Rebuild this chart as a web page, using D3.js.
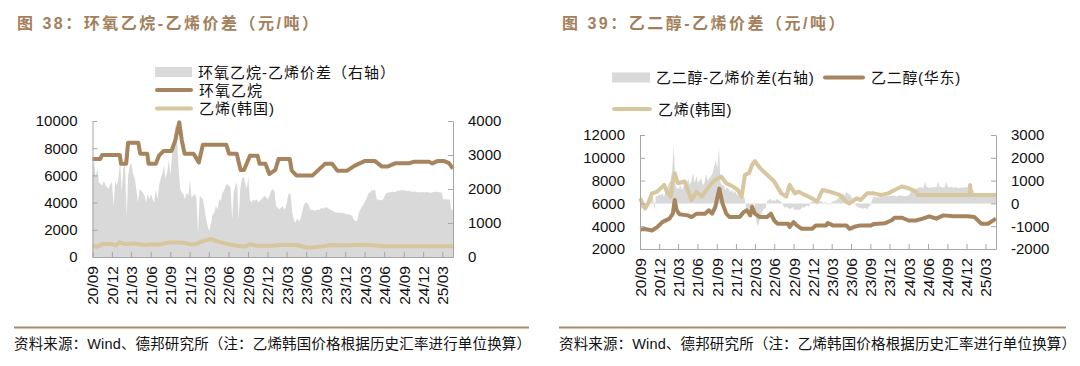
<!DOCTYPE html>
<html><head><meta charset="utf-8">
<script src="https://cdn.jsdelivr.net/npm/d3@7"></script>
<style>
html,body{margin:0;padding:0;background:#fff;}
svg{display:block;}
</style></head><body>
<script>
// ---------------- DATA ----------------
const xStart = "2020-09-01", xEnd = "2025-04-20";
const xTickLabels = ["20/09","20/12","21/03","21/06","21/09","21/12","22/03","22/06","22/09","22/12","23/03","23/06","23/09","23/12","24/03","24/06","24/09","24/12","25/03"];

// Figure 38
const eoLeftTicks = [0,2000,4000,6000,8000,10000];
const eoRightTicks = [0,1000,2000,3000,4000];
const eoSpread = [ // 环氧乙烷-乙烯价差 (right axis), ~weekly
 2300,2800,2350,2600, 2200,2150,2100,2250, 2100,2050,2000,2150, 2200,1500,2250,2100,
 2300,2850,1900,2600, 2750,1200,2400,2700, 2750,2450,2300,2000, 1600,2000,1950,1900,
 1800,1600,1850,1700, 1850,1700,1600,2000, 1700,2100,2300,2450, 2700,2300,2500,2850,
 2400,3000,3400,3900, 3600,2600,2000,1900, 1850,1700,1900,1800, 2250,1750,1800,1850,
 1750,700,1800,1750, 1700,1400,1100,900, 760,1000,1250,1300, 1500,1400,1700,1650,
 1880,1950,2100,2150, 2100,2050,1100,1900, 2100,2200,1100,2000, 2300,2370,2200,2000,
 2350,1650,1600,1700, 1650,1700,1600,1650, 1700,1750,1800,1750, 1700,1800,1950,2000,
 1950,1500,1450,1400, 1450,1500,1400,1450, 1700,1880,1850,1300, 1100,1000,1150,1050,
 1100,1300,1500,1600, 1590,1550,1400,1380, 1390,1350,1400,1380, 1400,1450,1420,1450,
 1460,1440,1400,1380, 1350,1320,1300,1310, 1300,1290,1300,1280, 1270,1260,1250,1240,
 1200,1100,1050,1060, 1300,1400,1500,1550, 1650,1750,1880,1900, 1980,1950,1990,1700,
 1690,1680,1660,1700, 1800,1880,1900,1900, 1910,1920,1900,1930, 1950,1950,1960,1960,
 1960,1950,1940,1950, 1930,1920,1930,1920, 1910,1900,1910,1900, 1910,1900,1920,1900,
 1890,1900,1910,1920, 1920,1910,1900,1900, 1700,1690,1700,1690, 1690,1400,1380
];
const eoPrice = [ // 环氧乙烷
 ["2020-09-01",7200],["2020-10-07",7200],["2020-10-16",7500],["2021-01-07",7500],["2021-01-13",6850],
 ["2021-02-06",6850],["2021-02-15",8400],["2021-04-04",8400],["2021-04-13",7600],["2021-05-16",7600],
 ["2021-05-22",6850],["2021-06-25",6850],["2021-07-10",7450],["2021-08-01",7800],["2021-09-07",7800],
 ["2021-09-25",8600],["2021-10-13",9900],["2021-10-25",8600],["2021-11-07",7600],["2021-12-19",7600],
 ["2022-01-13",6950],["2022-02-01",8250],["2022-05-22",8250],["2022-06-04",7600],["2022-07-10",7600],
 ["2022-07-28",6400],["2022-08-13",6400],["2022-09-10",7450],["2022-10-16",7450],["2022-10-25",6850],
 ["2022-11-22",6850],["2022-12-10",6100],["2023-01-07",6400],["2023-01-22",7200],["2023-03-16",7200],
 ["2023-03-25",6350],["2023-04-16",6000],["2023-07-01",6000],["2023-08-28",6850],["2023-10-01",6850],
 ["2023-10-25",6350],["2023-12-10",6350],["2024-01-13",6700],["2024-03-01",7050],["2024-04-19",7050],
 ["2024-05-22",6650],["2024-06-16",6650],["2024-07-25",6900],["2024-09-28",6900],["2024-10-16",7000],
 ["2024-12-28",7000],["2025-01-13",6880],["2025-02-06",7050],["2025-03-10",7050],["2025-04-01",6900],
 ["2025-04-20",6500]
];
const eoEthylene = [ // 乙烯(韩国)
 ["2020-09-01",850],["2020-09-20",750],["2020-10-20",950],["2020-12-01",950],["2020-12-20",850],
 ["2021-01-07",1100],["2021-02-01",950],["2021-03-15",1000],["2021-05-01",880],["2021-06-01",930],
 ["2021-07-15",920],["2021-09-01",1080],["2021-11-01",1050],["2021-12-10",920],["2022-01-01",950],
 ["2022-01-20",1100],["2022-03-10",1330],["2022-04-10",1150],["2022-05-20",980],["2022-07-20",800],
 ["2022-08-20",770],["2022-09-10",950],["2022-10-10",820],["2023-01-01",820],["2023-02-01",900],
 ["2023-04-15",880],["2023-06-10",680],["2023-08-15",780],["2023-09-20",880],["2023-12-15",860],
 ["2024-02-15",900],["2024-04-15",870],["2024-05-20",790],["2025-04-20",790]
];

// Figure 39
const megLeftTicks = [2000,4000,6000,8000,10000,12000];
const megRightTicks = [-2000,-1000,0,1000,2000,3000];
const megSpread = [ // 乙二醇-乙烯价差 (right axis), ~weekly
 -200,-250,-150,-200, -100,100,200,250, 300,-300,350,300, 400,350,450,300,
 600,700,900,1000, 1460,2550,800,650, 650,800,600,700, 1000,900,1100,800,
 1000,1310,900,1200, 900,1000,1100,800, 900,1300,1000,1100, 1200,1300,1600,1900,
 1500,2480,900,800, 800,600,700,650, 500,600,450,550, 400,350,450,400,
 300,200,-300,-250, -200,-300,-150,100, -700,-1000,-800,-600, -300,-250,-200,100,
 150,200,100,150, 100,200,150,100, 50,-100,-200,-150, -200,-250,-220,-150,
 -300,-280,-250,-300, -250,-150,-200,-100, -100,-150,50,80, 70,50,-80,60,
 80,100,-50,100, -100,50,-80,60, 80,120,150,200, 300,400,450,350,
 500,450,400,300, 200,100,-100,-150, -200,-180,-250,-200, -200,-270,-150,-100,
 150,280,300,250, 290,260,300,280, 300,320,310,330, 350,340,360,300,
 320,360,350,330, 340,300,350,360, 500,580,620,600, 650,700,730,680,
 700,950,720,700, 680,720,700,730, 700,950,720,710, 700,680,950,720,
 700,730,710,690, 720,700,680,700, 690,710,700,720, 700,650,600,580,
 300,290,300,280, 300,290,310,300, 280,300,290,300, 290,300
];
const megPrice = [ // 乙二醇(华东)
 ["2020-09-01",3700],["2020-09-25",3750],["2020-10-28",3620],["2020-11-22",3920],["2020-12-16",4360],
 ["2021-01-19",4660],["2021-02-04",5100],["2021-02-13",6300],["2021-02-22",5400],["2021-03-07",5050],
 ["2021-04-16",4950],["2021-05-04",4800],["2021-05-28",5100],["2021-07-07",5100],["2021-07-25",5400],
 ["2021-08-10",5100],["2021-08-25",5700],["2021-09-13",7300],["2021-09-28",6000],["2021-10-16",5100],
 ["2021-11-01",4800],["2021-12-19",4800],["2022-01-07",5250],["2022-01-22",5400],["2022-02-07",4950],
 ["2022-02-16",5700],["2022-03-01",5100],["2022-03-25",4800],["2022-04-28",4800],["2022-05-16",5100],
 ["2022-06-01",4500],["2022-06-16",4220],["2022-08-07",4220],["2022-08-13",3920],["2022-09-01",4360],
 ["2022-09-16",4070],["2022-10-10",3770],["2022-11-28",3770],["2022-12-16",4070],["2023-02-04",4070],
 ["2023-02-10",4280],["2023-03-07",4070],["2023-05-10",4070],["2023-05-25",3770],["2023-06-22",3980],
 ["2023-07-16",4070],["2023-09-04",4070],["2023-09-19",4200],["2023-11-07",4250],["2023-12-10",4500],
 ["2023-12-25",4750],["2024-01-28",4750],["2024-03-01",4500],["2024-04-04",4500],["2024-05-07",4660],
 ["2024-06-07",4870],["2024-07-10",4660],["2024-08-13",4950],["2024-10-01",4870],["2024-12-07",4870],
 ["2025-01-07",4800],["2025-02-10",4220],["2025-03-13",4220],["2025-04-20",4660]
];
const megEthylene = [ // 乙烯(韩国)
 ["2020-09-01",6440],["2020-09-25",5560],["2020-10-10",6000],["2020-10-28",6880],["2020-11-22",7030],
 ["2020-12-25",7620],["2021-01-10",6880],["2021-01-25",6590],["2021-02-04",7920],["2021-02-13",8650],
 ["2021-02-28",7770],["2021-04-01",7920],["2021-05-04",6300],["2021-05-28",7030],["2021-06-22",6590],
 ["2021-07-25",7480],["2021-08-25",8060],["2021-09-22",8350],["2021-10-16",7770],["2021-11-16",7480],
 ["2021-12-10",7180],["2021-12-28",6590],["2022-01-13",8510],["2022-02-01",8650],["2022-02-16",9390],
 ["2022-03-01",9700],["2022-03-25",9100],["2022-04-28",8510],["2022-06-01",7920],["2022-07-04",6880],
 ["2022-07-28",6590],["2022-08-13",7620],["2022-09-07",6880],["2022-09-25",7030],["2022-10-25",6740],
 ["2022-11-28",6440],["2022-12-22",6150],["2023-01-16",7180],["2023-02-19",7030],["2023-04-07",6740],
 ["2023-05-10",6150],["2023-05-25",6000],["2023-06-28",6440],["2023-07-16",6300],["2023-08-16",6880],
 ["2023-09-19",6880],["2023-10-22",6740],["2023-11-25",6880],["2023-12-25",7180],["2024-01-28",7480],
 ["2024-03-01",7330],["2024-04-04",7030],["2024-04-13",6740],["2024-12-15",6740],["2024-12-18",7620],
 ["2024-12-22",6740],["2025-04-20",6740]
];

const footText = "资料来源：Wind、德邦研究所（注：乙烯韩国价格根据历史汇率进行单位换算）";

// ---------------- DRAWING ----------------
const FONT = "'Liberation Sans','Noto Sans CJK SC',sans-serif";
const GREY = "#d9d9d9", BROWN = "#a6845e", BEIGE = "#d8c69f", AXIS = "#a6a6a6", TITLE = "#a3805b";
const svg = d3.select("body").append("svg").attr("width",1080).attr("height",366);
const parse = d3.timeParse("%Y-%m-%d");
const tickDates = xTickLabels.map(s => new Date(2000 + +s.slice(0,2), +s.slice(3) - 1, 1));

function drawPanel(p){
  const g = svg.append("g");
  const x = d3.scaleTime().domain([parse(xStart), parse(xEnd)]).range([p.left, p.right]);
  const yL = d3.scaleLinear().domain(p.leftDomain).range([p.bottom, p.top]);
  const yR = d3.scaleLinear().domain(p.rightDomain).range([p.bottom, p.top]);
  const idx = d3.scaleLinear().domain([0, p.spread.length - 1]).range([parse(xStart), parse(xEnd)]);

  g.append("path").datum(p.spread)
    .attr("d", d3.area().x((d,i)=>x(idx(i))).y0(yR(0)).y1(d=>yR(d)))
    .attr("fill", GREY);

  const line = d3.line().x(d=>x(parse(d[0]))).y(d=>yL(d[1]));
  g.append("path").datum(p.main).attr("d", line).attr("fill","none")
    .attr("stroke", BROWN).attr("stroke-width", 4).attr("stroke-linejoin","round");
  g.append("path").datum(p.eth).attr("d", line).attr("fill","none")
    .attr("stroke", BEIGE).attr("stroke-width", 4).attr("stroke-linejoin","round");

  const styleAxis = a => {
    a.attr("font-family", FONT).attr("font-size", 15);
    a.select(".domain").attr("stroke", AXIS);
    a.selectAll(".tick line").attr("stroke", AXIS);
    a.selectAll(".tick text").attr("fill", "#111");
  };
  g.append("g").attr("transform", `translate(${p.left},0)`)
    .call(d3.axisLeft(yL).tickValues(p.leftTicks).tickSize(-5).tickSizeOuter(0).tickPadding(15).tickFormat(d=>String(d)))
    .call(styleAxis);
  g.append("g").attr("transform", `translate(${p.right},0)`)
    .call(d3.axisRight(yR).tickValues(p.rightTicks).tickSize(-5).tickSizeOuter(0).tickPadding(15).tickFormat(d=>String(d)))
    .call(styleAxis);
  const xa = g.append("g").attr("transform", `translate(0,${p.bottom})`)
    .call(d3.axisBottom(x).tickValues(tickDates).tickSize(-5).tickSizeOuter(0).tickFormat((d,i)=>xTickLabels[i]))
    .call(styleAxis);
  xa.selectAll(".tick text").attr("transform","rotate(-90)").attr("x",-9).attr("y",0)
    .attr("dy","0.35em").attr("text-anchor","end").attr("font-size", 15.5);

  // title
  g.append("text").attr("x", p.titleX).attr("y", 29).attr("font-family", FONT)
    .attr("font-size", 16).attr("font-weight","bold").attr("letter-spacing", 2.5)
    .attr("fill", TITLE).text(p.title);

  // legend
  p.legend.forEach(it => {
    if (it.kind === "rect") {
      g.append("rect").attr("x", it.x).attr("y", it.y - 5).attr("width", it.w).attr("height", 10).attr("fill", GREY);
    } else {
      g.append("line").attr("x1", it.x + 2).attr("x2", it.x + it.w - 2).attr("y1", it.y).attr("y2", it.y)
        .attr("stroke", it.color).attr("stroke-width", 4).attr("stroke-linecap","round");
    }
    g.append("text").attr("x", it.x + it.w + 6).attr("y", it.y).attr("dominant-baseline","central")
      .attr("font-family", FONT).attr("font-size", 15).attr("letter-spacing", p.legendSpacing)
      .attr("fill","#111").text(it.label);
  });

  // footer
  g.append("line").attr("x1", p.footX1).attr("x2", p.footX2).attr("y1", 327.5).attr("y2", 327.5)
    .attr("stroke", "#a88b68").attr("stroke-width", 2);
  g.append("text").attr("x", p.footX1).attr("y", 349).attr("font-family", FONT)
    .attr("font-size", 14.5).attr("letter-spacing", 0.15).attr("fill","#111").text(footText);
}

drawPanel({
  left: 92.5, right: 453, top: 121, bottom: 257,
  leftDomain: [0,10000], rightDomain: [0,4000], leftTicks: eoLeftTicks, rightTicks: eoRightTicks,
  spread: eoSpread, main: eoPrice, eth: eoEthylene,
  title: "图 38：环氧乙烷-乙烯价差（元/吨）", titleX: 17,
  legendSpacing: 1,
  legend: [
    {kind:"rect", x:155, y:72, w:37, label:"环氧乙烷-乙烯价差（右轴）"},
    {kind:"line", x:155, y:90, w:38, color:BROWN, label:"环氧乙烷"},
    {kind:"line", x:155, y:108.5, w:38, color:BEIGE, label:"乙烯(韩国)"}
  ],
  footX1: 14, footX2: 529
});

drawPanel({
  left: 640, right: 996, top: 135, bottom: 249,
  leftDomain: [2000,12000], rightDomain: [-2000,3000], leftTicks: megLeftTicks, rightTicks: megRightTicks,
  spread: megSpread, main: megPrice, eth: megEthylene,
  title: "图 39：乙二醇-乙烯价差（元/吨）", titleX: 562,
  legendSpacing: 0.7,
  legend: [
    {kind:"rect", x:612, y:77.5, w:38, label:"乙二醇-乙烯价差(右轴)"},
    {kind:"line", x:823, y:77.5, w:42, color:BROWN, label:"乙二醇(华东)"},
    {kind:"line", x:612, y:109, w:40, color:BEIGE, label:"乙烯(韩国)"}
  ],
  footX1: 559, footX2: 1066
});
</script>
</body></html>
